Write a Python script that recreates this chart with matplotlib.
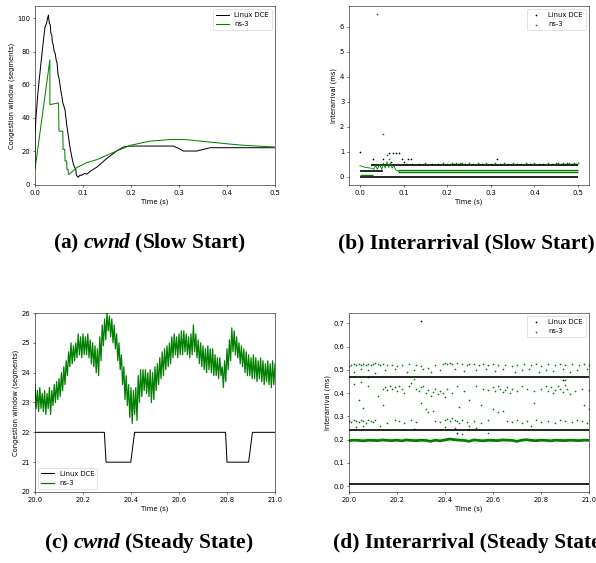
import numpy as np
import matplotlib
matplotlib.use("Agg")
import matplotlib.pyplot as plt

# ---------------- data ----------------
# (a) cwnd, slow start
dce_a_t = [0.0, 0.0, 0.002, 0.006, 0.012, 0.018, 0.021, 0.024, 0.026, 0.028, 0.029, 0.030,
           0.032, 0.033, 0.035, 0.036, 0.038, 0.040, 0.042, 0.044, 0.046, 0.048, 0.050,
           0.052, 0.054, 0.056, 0.058, 0.0625, 0.066, 0.069, 0.073, 0.077, 0.080, 0.083,
           0.085, 0.086, 0.090, 0.094, 0.097, 0.100, 0.104, 0.108, 0.113, 0.118, 0.129,
           0.149, 0.170, 0.184, 0.198, 0.288, 0.300, 0.309, 0.337, 0.365, 0.5]
dce_a_cwnd = [10, 30, 40, 55, 72, 88, 95, 97, 100, 102, 99, 97,
              96, 91, 90, 86, 84, 80, 79, 75, 73, 66, 64,
              60, 56, 53, 49, 45, 36, 30, 22, 16, 12, 10,
              9, 5.5, 4.2, 5.5, 5.3, 6, 6.5, 6, 7.3, 8.3, 10.3,
              15.4, 20, 22.4, 23, 23, 21.5, 20, 20, 22, 22]
ns3_a_t = [0.0, 0.031, 0.031, 0.049, 0.050, 0.058, 0.0585, 0.062, 0.0625, 0.066, 0.0665,
           0.069, 0.0695, 0.0715, 0.087, 0.108, 0.129, 0.150, 0.170, 0.198, 0.240, 0.281,
           0.309, 0.344, 0.378, 0.413, 0.448, 0.5]
ns3_a_cwnd = [9, 75, 48, 49, 32, 32, 21, 21, 14, 14, 9,
              9, 6, 6, 10, 13, 14.8, 17.5, 20, 23.4, 26, 26.9,
              27, 26, 25, 24, 23.2, 22.4]

# (b) interarrival, slow start  -- dense bands as (level, start, end)
dce_b_bands = [(0.0, 0.0, 0.5), (0.22, 0.0, 0.052), (0.48, 0.025, 0.5)]
dce_b_x = [0.0, 0.029, 0.052, 0.067, 0.076, 0.082, 0.089, 0.096, 0.110, 0.117, 0.314, 0.071, 0.100]
dce_b_y = [1.0, 0.73, 0.73, 0.97, 0.97, 0.97, 0.97, 0.73, 0.73, 0.73, 0.73, 0.6, 0.6]
ns3_b_bands = [(0.07, 0.0, 0.03), (0.20, 0.088, 0.5), (0.27, 0.088, 0.5)]
ns3_b_wave_t = [0.0, 0.004, 0.008, 0.012, 0.016, 0.020, 0.024, 0.028, 0.032, 0.036, 0.040,
                0.045, 0.050, 0.054, 0.058, 0.062, 0.066, 0.070, 0.074, 0.078, 0.082, 0.086, 0.090]
ns3_b_wave_v = [0.45, 0.42, 0.40, 0.38, 0.37, 0.36, 0.35, 0.34, 0.30, 0.45, 0.30,
                0.50, 0.30, 0.55, 0.35, 0.60, 0.38, 0.55, 0.35, 0.45, 0.28, 0.25, 0.20]
ns3_b_x = [0.039, 0.052, 0.062, 0.067,
           0.105, 0.12, 0.135, 0.15, 0.165, 0.18, 0.19, 0.20, 0.21, 0.215, 0.22, 0.225,
           0.23, 0.235, 0.24, 0.25, 0.26, 0.27, 0.28, 0.29, 0.30, 0.31, 0.32, 0.33, 0.34,
           0.35, 0.36, 0.37, 0.38, 0.39, 0.40, 0.41, 0.42, 0.43, 0.44, 0.45, 0.455, 0.46,
           0.465, 0.47, 0.475, 0.48, 0.485, 0.49, 0.495, 0.50]
ns3_b_y = [6.5, 1.72, 0.86, 0.73,
           0.52, 0.53, 0.52, 0.54, 0.52, 0.53, 0.55, 0.52, 0.54, 0.53, 0.55, 0.52,
           0.54, 0.56, 0.53, 0.55, 0.52, 0.54, 0.53, 0.56, 0.52, 0.54, 0.53, 0.55, 0.52,
           0.54, 0.53, 0.52, 0.55, 0.53, 0.54, 0.52, 0.53, 0.55, 0.52, 0.54, 0.56, 0.53,
           0.55, 0.52, 0.54, 0.56, 0.53, 0.55, 0.52, 0.54]

# (c) cwnd, steady state
dce_c_t = [20.0, 20.289, 20.296, 20.399, 20.415, 20.794, 20.80, 20.89, 20.906, 21.0]
dce_c_cwnd = [22, 22, 21, 21, 22, 22, 21, 21, 22, 22]
# ns-3 saw-tooth: peaks at 20.00, 20.01, ... and troughs half a step later
ns3_c_hi = [23.6, 23.4, 23.5, 23.3, 23.4, 23.3, 23.5, 23.4, 23.6, 23.7,
            23.8, 24.0, 24.2, 24.4, 24.7, 25.0, 24.9, 25.0, 25.3, 25.2,
            25.3, 25.2, 25.3, 25.1, 25.0, 24.9, 24.8, 25.2, 25.6, 25.8,
            26.0, 25.9, 25.8, 25.6, 25.3, 25.0, 24.6, 24.2, 23.9, 23.6,
            23.5, 23.4, 23.5, 23.9, 24.1, 24.1, 24.1, 24.0, 24.1, 24.0,
            24.2, 24.3, 24.5, 24.7, 24.8, 24.9, 25.0, 25.2, 25.3, 25.2,
            25.3, 25.4, 25.4, 25.3, 25.2, 25.3, 25.6, 25.3, 25.1, 25.0,
            24.9, 24.8, 24.9, 24.8, 24.8, 24.6, 24.5, 24.5, 24.2, 24.4,
            24.8, 25.1, 25.5, 25.4, 25.2, 25.0, 24.9, 24.8, 24.7, 24.6,
            24.5, 24.6, 24.5, 24.4, 24.5, 24.4, 24.3, 24.4, 24.3, 24.4, 24.3]
ns3_c_lo = [22.8, 22.7, 22.8, 22.7, 22.6, 22.8, 22.6, 22.9, 23.0, 23.1,
            23.2, 23.4, 23.6, 23.9, 24.2, 24.3, 24.4, 24.5, 24.6, 24.5,
            24.6, 24.6, 24.5, 24.3, 24.2, 24.0, 23.9, 24.4, 24.9, 25.1,
            25.4, 25.2, 25.0, 24.8, 24.4, 24.1, 23.6, 23.1, 22.9, 22.5,
            22.3, 22.6, 22.4, 23.0, 23.2, 23.4, 23.3, 23.2, 23.0, 23.1,
            23.4, 23.6, 23.8, 23.9, 24.1, 24.2, 24.3, 24.5, 24.6, 24.5,
            24.6, 24.6, 24.7, 24.6, 24.5, 24.6, 24.7, 24.5, 24.3, 24.2,
            24.1, 24.0, 24.1, 24.0, 23.9, 23.9, 23.8, 23.9, 23.5, 23.7,
            24.1, 24.4, 24.7, 24.6, 24.5, 24.3, 24.2, 24.0, 23.9, 23.9,
            23.8, 23.8, 23.7, 23.8, 23.7, 23.6, 23.7, 23.6, 23.5, 23.6, 23.4]

# (d) interarrival, steady state
dce_d_bands = [(0.01, 20.0, 21.0), (0.24, 20.0, 21.0), (0.468, 20.0, 21.0)]
dce_d_x = [20.30, 20.45, 20.27, 20.89]
dce_d_y = [0.71, 0.23, 0.245, 0.455]
ns3_d_band = [0.196, 0.198, 0.197, 0.195, 0.198, 0.197, 0.196, 0.199, 0.197, 0.196,
              0.198, 0.195, 0.199, 0.197, 0.196, 0.198, 0.197, 0.193, 0.198, 0.195,
              0.199, 0.203, 0.200, 0.198, 0.197, 0.193, 0.199, 0.197, 0.195, 0.198,
              0.197, 0.196, 0.199, 0.198, 0.197, 0.193, 0.198, 0.200, 0.197, 0.196,
              0.198, 0.197, 0.195, 0.198, 0.197, 0.196, 0.198, 0.197, 0.196, 0.198, 0.197]
ns3_d_upper = [(20.00, .515), (20.01, .52), (20.02, .525), (20.03, .52), (20.04, .525), (20.05, .52),
               (20.06, .525), (20.07, .52), (20.08, .525), (20.09, .52), (20.10, .525), (20.11, .53),
               (20.12, .525), (20.13, .52), (20.14, .525), (20.16, .52), (20.18, .52), (20.20, .515),
               (20.22, .52), (20.25, .525), (20.28, .52), (20.30, .515), (20.33, .51), (20.36, .52),
               (20.39, .525), (20.40, .53), (20.41, .525), (20.42, .53), (20.43, .525), (20.45, .53),
               (20.47, .525), (20.49, .52), (20.50, .525), (20.52, .525), (20.54, .52), (20.56, .525),
               (20.58, .52), (20.60, .525), (20.62, .52), (20.65, .52), (20.68, .515), (20.70, .52),
               (20.73, .525), (20.76, .52), (20.78, .525), (20.80, .515), (20.83, .525), (20.86, .52),
               (20.88, .525), (20.90, .52), (20.93, .525), (20.96, .52), (20.98, .525), (21.00, .52),
               (20.02, .49), (20.05, .505), (20.08, .50), (20.11, .485), (20.15, .50), (20.19, .505),
               (20.24, .49), (20.27, .50), (20.31, .505), (20.34, .49), (20.38, .50), (20.44, .505),
               (20.48, .495), (20.53, .50), (20.57, .505), (20.61, .495), (20.64, .505), (20.69, .49),
               (20.72, .50), (20.75, .505), (20.79, .49), (20.82, .50), (20.85, .495), (20.89, .505),
               (20.92, .49), (20.95, .50), (20.99, .505)]
ns3_d_mid = [(20.02, .44), (20.05, .45), (20.08, .43), (20.12, .39), (20.14, .42), (20.15, .425),
             (20.16, .415), (20.17, .43), (20.18, .42), (20.19, .425), (20.20, .41), (20.21, .43),
             (20.22, .42), (20.23, .40), (20.25, .43), (20.26, .445), (20.28, .42), (20.29, .41),
             (20.30, .425), (20.31, .43), (20.32, .40), (20.33, .415), (20.34, .39), (20.35, .405),
             (20.36, .42), (20.37, .395), (20.38, .41), (20.39, .40), (20.40, .385), (20.41, .42),
             (20.43, .40), (20.45, .43), (20.48, .41), (20.53, .43), (20.56, .42), (20.58, .415),
             (20.60, .425), (20.61, .41), (20.62, .43), (20.63, .42), (20.64, .405), (20.65, .415),
             (20.66, .425), (20.67, .40), (20.68, .42), (20.70, .41), (20.72, .43), (20.74, .42),
             (20.77, .41), (20.80, .42), (20.82, .43), (20.83, .41), (20.84, .425), (20.85, .40),
             (20.86, .415), (20.87, .43), (20.88, .42), (20.89, .405), (20.90, .435), (20.91, .42),
             (20.92, .395), (20.94, .41), (20.97, .42), (21.00, .415)]
ns3_d_low = [(20.00, .28), (20.01, .275), (20.02, .285), (20.03, .28), (20.04, .275), (20.05, .285),
             (20.06, .28), (20.07, .27), (20.08, .285), (20.09, .28), (20.10, .275), (20.11, .285),
             (20.13, .26), (20.16, .27), (20.19, .285), (20.21, .28), (20.23, .27), (20.26, .285),
             (20.28, .275), (20.32, .33), (20.33, .32), (20.35, .325), (20.36, .28), (20.38, .275),
             (20.40, .285), (20.41, .29), (20.42, .28), (20.43, .295), (20.44, .285), (20.45, .28),
             (20.46, .27), (20.47, .285), (20.49, .275), (20.50, .26), (20.52, .28), (20.55, .27),
             (20.58, .285), (20.60, .33), (20.62, .32), (20.64, .325), (20.66, .28), (20.68, .275),
             (20.70, .285), (20.72, .27), (20.74, .28), (20.76, .26), (20.78, .285), (20.80, .275),
             (20.83, .28), (20.86, .27), (20.88, .285), (20.90, .28), (20.93, .275), (20.95, .285),
             (20.97, .28), (20.99, .27), (20.03, .255), (20.06, .26), (20.40, .255), (20.44, .25),
             (20.47, .225), (20.50, .245), (20.53, .25), (20.58, .23)]
ns3_d_other = [(20.04, .37), (20.06, .335), (20.08, .47), (20.27, .46), (20.14, .35), (20.50, .37),
               (20.55, .35), (20.77, .36), (20.90, .455), (20.98, .35), (20.46, .34), (20.30, .36),
               (21.00, .33)]

# ---------------- style (default mpl figure shrunk to ~0.484) ----------------
k = 0.484
plt.rcParams.update({
    "font.size": 10 * k,
    "axes.linewidth": 0.8 * k,
    "lines.linewidth": 1.5 * k,
    "patch.linewidth": 1.0 * k,
    "xtick.major.size": 3.5 * k, "ytick.major.size": 3.5 * k,
    "xtick.major.width": 0.8 * k, "ytick.major.width": 0.8 * k,
    "xtick.major.pad": 3.5 * k, "ytick.major.pad": 3.5 * k,
    "axes.labelpad": 4 * k,
    "mathtext.fontset": "custom",
    "mathtext.it": "Liberation Serif:italic:bold",
    "mathtext.rm": "Liberation Serif:bold",
})

W, H = 596, 563
fig = plt.figure(figsize=(W / 100, H / 100), dpi=100)


def place(left, top, w=240, h=179):
    return fig.add_axes([left / W, (H - top - h) / H, w / W, h / H])


ax_a = place(35, 6)
ax_b = place(349, 6)
ax_c = place(35, 313)
ax_d = place(349, 313)

# (a)
ax_a.plot(dce_a_t, dce_a_cwnd, color="k", label="Linux DCE")
ax_a.plot(ns3_a_t, ns3_a_cwnd, color="g", label="ns-3")
ax_a.set_xlim(0, 0.5)
ax_a.set_ylim(-0.5, 107.5)
ax_a.set_xlabel("Time (s)")
ax_a.set_ylabel("Congestion window (segments)")
ax_a.legend(loc="upper right")

# (b)
for lvl, x0, x1 in dce_b_bands:
    ax_b.hlines(lvl, x0, x1, color="k", lw=1.2)
for lvl, x0, x1 in ns3_b_bands:
    ax_b.hlines(lvl, x0, x1, color="g", lw=1.0)
ax_b.plot(ns3_b_wave_t, ns3_b_wave_v, color="g", lw=0.6)
ax_b.scatter(dce_b_x, dce_b_y, s=1.5, c="k", linewidths=0, label="Linux DCE")
ax_b.scatter(ns3_b_x, ns3_b_y, s=1.5, c="g", linewidths=0, label="ns-3")
ax_b.set_xlabel("Time (s)")
ax_b.set_ylabel("Interarrival (ms)")
ax_b.legend(loc="upper right")

# (c)
ax_c.plot(dce_c_t, dce_c_cwnd, color="k", label="Linux DCE")
ns3_c_t = np.ravel(np.column_stack([20 + 0.01 * np.arange(len(ns3_c_hi)),
                                    20.005 + 0.01 * np.arange(len(ns3_c_lo))]))
ns3_c_cwnd = np.ravel(np.column_stack([ns3_c_hi, ns3_c_lo]))
ax_c.plot(ns3_c_t, ns3_c_cwnd, color="g", lw=0.9, label="ns-3")
ax_c.set_xlim(20, 21)
ax_c.set_ylim(20, 26)
ax_c.ticklabel_format(useOffset=False)
ax_c.set_xlabel("Time (s)")
ax_c.set_ylabel("Congestion window (segments)")
ax_c.legend(loc="lower left")

# (d)
for lvl, x0, x1 in dce_d_bands:
    ax_d.hlines(lvl, x0, x1, color="k", lw=1.2)
ax_d.plot(np.linspace(20, 21, len(ns3_d_band)), ns3_d_band, color="g", lw=2.0)
ns3_d_pts = np.array(ns3_d_upper + ns3_d_mid + ns3_d_low + ns3_d_other)
ax_d.scatter(dce_d_x, dce_d_y, s=1.5, c="k", linewidths=0, label="Linux DCE")
ax_d.scatter(ns3_d_pts[:, 0], ns3_d_pts[:, 1], s=1.5, c="g", linewidths=0, label="ns-3")
ax_d.set_xlim(20, 21)
ax_d.ticklabel_format(useOffset=False)
ax_d.set_xlabel("Time (s)")
ax_d.set_ylabel("Interarrival (ms)")
ax_d.legend(loc="upper right")

# captions
cap = dict(fontsize=15.4, family="Liberation Serif", weight="bold", ha="center", va="center")
fig.text(149 / W, 1 - 243 / H, r"(a) $\mathit{cwnd}$ (Slow Start)", **cap)
fig.text(466 / W, 1 - 243 / H, "(b) Interarrival (Slow Start)", **cap)
fig.text(149 / W, 1 - 543 / H, r"(c) $\mathit{cwnd}$ (Steady State)", **cap)
fig.text(470 / W, 1 - 543 / H, "(d) Interarrival (Steady State)", **cap)

fig.savefig("out.png", dpi=100)
